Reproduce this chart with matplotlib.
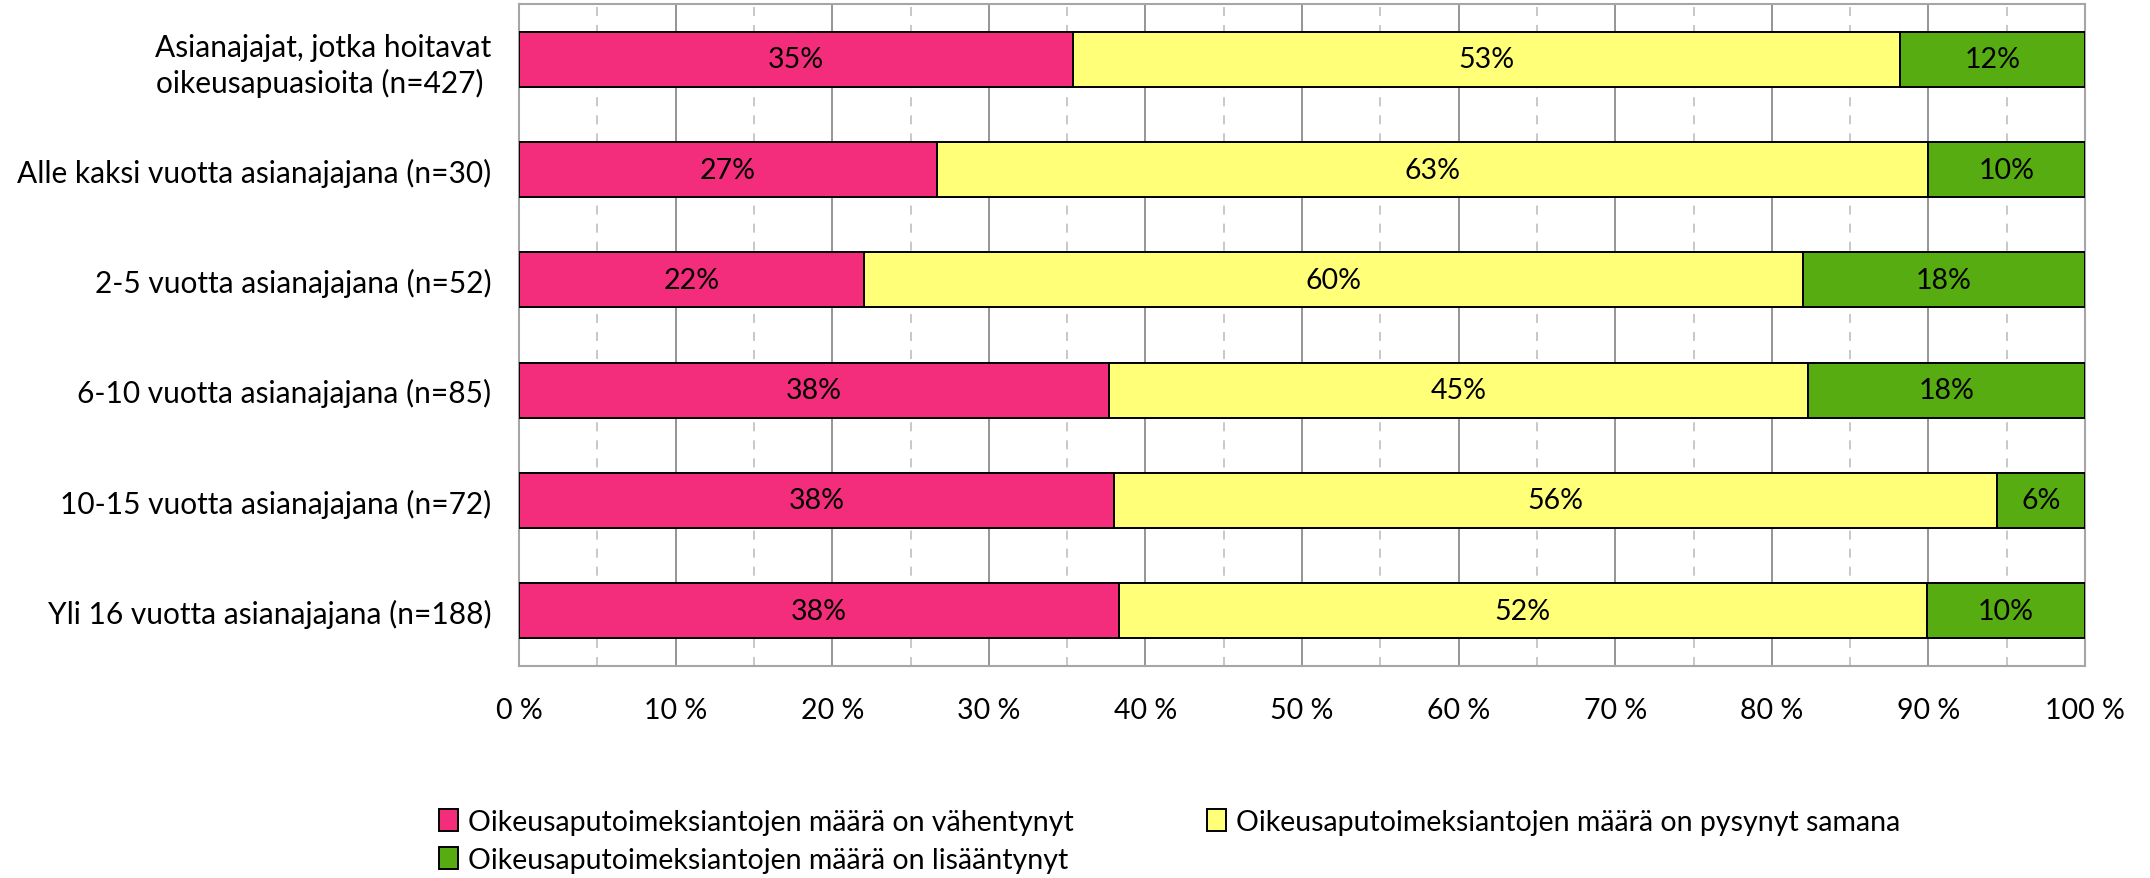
import numpy as np
import matplotlib.pyplot as plt
from matplotlib.ticker import MultipleLocator, FuncFormatter

plt.rcParams['font.family'] = ['Lato', 'DejaVu Sans']

categories = [
    "Asianajajat, jotka hoitavat\noikeusapuasioita (n=427) ",
    "Alle kaksi vuotta asianajajana (n=30)",
    "2-5 vuotta asianajajana (n=52)",
    "6-10 vuotta asianajajana (n=85)",
    "10-15 vuotta asianajajana (n=72)",
    "Yli 16 vuotta asianajajana (n=188)",
]
vahentynyt = [35.4, 26.7, 22.0, 37.7, 38.0, 38.3]
pysynyt = [52.8, 63.3, 60.0, 44.6, 56.4, 51.6]
lisaantynyt = [11.8, 10.0, 18.0, 17.7, 5.6, 10.1]

series = [
    (vahentynyt, '#F32C7B', "Oikeusaputoimeksiantojen määrä on vähentynyt"),
    (pysynyt, '#FFFF78', "Oikeusaputoimeksiantojen määrä on pysynyt samana"),
    (lisaantynyt, '#56AC10', "Oikeusaputoimeksiantojen määrä on lisääntynyt"),
]

fs_cat = 21.5
fs = 20.5

fig, ax = plt.subplots(figsize=(21.5, 8.79), dpi=100)
fig.subplots_adjust(left=0.2414, right=0.9698, bottom=0.2412, top=0.9943)

y = np.arange(len(categories))
left = np.zeros(len(categories))
handles = []
for vals, color, label in series:
    vals = np.array(vals)
    bars = ax.barh(y, vals, left=left, height=0.5, color=color,
                   edgecolor='black', linewidth=1.4, label=label, zorder=3)
    ax.bar_label(bars, labels=[f"{v:.0f}%" for v in vals],
                 label_type='center', fontsize=fs)
    handles.append(bars)
    left += vals

ax.set_xlim(0, 100)
ax.set_ylim(5.5, -0.5)
ax.set_yticks(y)
ax.set_yticklabels(categories, fontsize=fs_cat)
for t in ax.get_yticklabels():
    t.set_linespacing(1.3)
ax.xaxis.set_major_locator(MultipleLocator(10))
ax.xaxis.set_minor_locator(MultipleLocator(5))
ax.xaxis.set_major_formatter(FuncFormatter(lambda v, p: f"{v:.0f} %"))
ax.tick_params(axis='x', which='both', length=0, labelsize=fs, pad=22)
ax.tick_params(axis='y', length=0, pad=20)

ax.grid(which='major', axis='x', color='#8c8c8c', lw=1.3, zorder=0)
ax.grid(which='minor', axis='x', color='#c4c4c4', lw=1.3,
        ls=(0, (5, 5)), zorder=0)
ax.set_axisbelow(True)
for s in ax.spines.values():
    s.set_color('#a6a6a6')
    s.set_linewidth(1.5)

# row-wise legend order
leg = fig.legend([handles[0], handles[2], handles[1]],
                 [series[0][2], series[2][2], series[1][2]],
                 ncol=2, loc='upper left', bbox_to_anchor=(0.199, 0.092),
                 frameon=False, fontsize=fs, handlelength=0.65,
                 handleheight=0.85, handletextpad=0.35, columnspacing=4.7,
                 labelspacing=0.42, borderaxespad=0)

fig.savefig('out.png', dpi=100)
